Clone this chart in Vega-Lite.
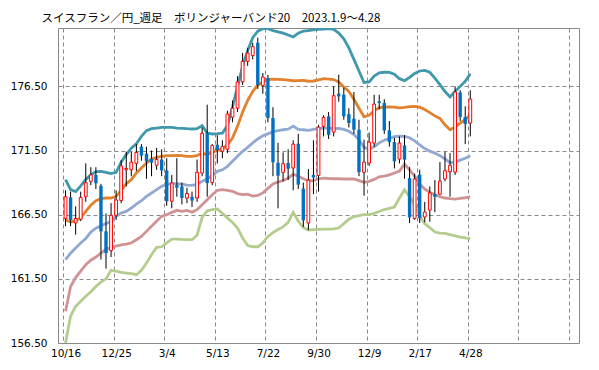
{
"$schema":"https://vega.github.io/schema/vega-lite/v6.json",
"width":521,"height":315,
"autosize":{"type":"none"},
"padding":{"left":58,"top":28,"right":20,"bottom":27},
"background":"white",
"title":{"text":"スイスフラン／円_週足　ボリンジャーバンド20　2023.1.9～4.28","anchor":"start","frame":"group","dx":-16.5,"offset":-5,"baseline":"alphabetic","font":"Noto Sans CJK JP","fontSize":11.5,"fontWeight":"normal","color":"#000000"},
"config":{"view":{"stroke":"#878787","strokeWidth":1},
"axis":{"gridColor":"#8a8a8a","gridDash":[4,3],"gridWidth":1,"ticks":false,"domain":false,"labelFont":"DejaVu Sans","labelFontSize":10.5,"labelColor":"#000000","title":null,"labelFlush":false,"labelOverlap":false}},
"datasets":{
"b":[
{"i":0,"u2":169.23,"u1":166.1,"m":162.99,"d1":158.97,"d2":156.5},
{"i":1,"u2":168.45,"u1":165.93,"m":163.5,"d1":160.9,"d2":158.6},
{"i":2,"u2":168.3,"u1":166.03,"m":163.9,"d1":161.6,"d2":159.35},
{"i":3,"u2":168.75,"u1":166.24,"m":164.3,"d1":162.1,"d2":159.75},
{"i":4,"u2":169.25,"u1":166.76,"m":164.65,"d1":162.6,"d2":160.15},
{"i":5,"u2":169.6,"u1":167.23,"m":165.15,"d1":162.95,"d2":160.5},
{"i":6,"u2":169.85,"u1":167.59,"m":165.45,"d1":163.2,"d2":160.9},
{"i":7,"u2":169.88,"u1":167.75,"m":165.64,"d1":163.5,"d2":161.25},
{"i":8,"u2":169.8,"u1":167.8,"m":165.8,"d1":163.8,"d2":161.5},
{"i":9,"u2":169.7,"u1":167.8,"m":165.98,"d1":163.95,"d2":162.16},
{"i":10,"u2":169.8,"u1":167.93,"m":166.37,"d1":164.05,"d2":162.1},
{"i":11,"u2":170.6,"u1":168.4,"m":166.63,"d1":164.15,"d2":162.0},
{"i":12,"u2":171.18,"u1":168.92,"m":166.76,"d1":164.2,"d2":161.95},
{"i":13,"u2":171.69,"u1":169.23,"m":167.02,"d1":164.3,"d2":161.9},
{"i":14,"u2":172.03,"u1":169.75,"m":167.33,"d1":164.55,"d2":161.82},
{"i":15,"u2":172.6,"u1":170.14,"m":167.59,"d1":164.81,"d2":162.16},
{"i":16,"u2":173.05,"u1":170.53,"m":167.93,"d1":165.2,"d2":162.73},
{"i":17,"u2":173.2,"u1":170.84,"m":168.19,"d1":165.59,"d2":163.38},
{"i":18,"u2":173.25,"u1":170.97,"m":168.45,"d1":165.98,"d2":163.95},
{"i":19,"u2":173.3,"u1":171.05,"m":168.71,"d1":166.37,"d2":164.0},
{"i":20,"u2":173.3,"u1":171.1,"m":168.86,"d1":166.5,"d2":164.3},
{"i":21,"u2":173.3,"u1":171.1,"m":168.92,"d1":166.68,"d2":164.6},
{"i":22,"u2":173.25,"u1":171.12,"m":168.92,"d1":166.84,"d2":164.6},
{"i":23,"u2":173.23,"u1":171.1,"m":168.89,"d1":166.76,"d2":164.57},
{"i":24,"u2":173.2,"u1":171.05,"m":168.81,"d1":166.84,"d2":164.55},
{"i":25,"u2":173.18,"u1":171.05,"m":168.79,"d1":166.7,"d2":164.55},
{"i":26,"u2":173.2,"u1":171.1,"m":168.86,"d1":166.89,"d2":164.9},
{"i":27,"u2":173.44,"u1":171.3,"m":169.1,"d1":167.28,"d2":166.3},
{"i":28,"u2":172.86,"u1":171.18,"m":169.28,"d1":167.67,"d2":166.8},
{"i":29,"u2":172.79,"u1":171.36,"m":169.54,"d1":168.06,"d2":166.9},
{"i":30,"u2":172.81,"u1":171.51,"m":169.88,"d1":168.4,"d2":166.95},
{"i":31,"u2":172.86,"u1":171.64,"m":170.0,"d1":168.45,"d2":166.6},
{"i":32,"u2":173.44,"u1":171.95,"m":170.27,"d1":168.4,"d2":166.25},
{"i":33,"u2":174.89,"u1":172.47,"m":170.66,"d1":168.32,"d2":165.9},
{"i":34,"u2":176.5,"u1":173.4,"m":171.05,"d1":168.14,"d2":165.46},
{"i":35,"u2":178.06,"u1":174.5,"m":171.44,"d1":168.06,"d2":164.68},
{"i":36,"u2":179.3,"u1":175.4,"m":171.75,"d1":168.1,"d2":164.1},
{"i":37,"u2":180.3,"u1":176.1,"m":172.1,"d1":167.95,"d2":164.0},
{"i":38,"u2":180.8,"u1":176.6,"m":172.4,"d1":168.0,"d2":164.0},
{"i":39,"u2":181.0,"u1":176.85,"m":172.65,"d1":168.2,"d2":164.3},
{"i":40,"u2":181.0,"u1":177.02,"m":172.8,"d1":168.55,"d2":164.8},
{"i":41,"u2":180.85,"u1":177.07,"m":172.97,"d1":168.9,"d2":165.1},
{"i":42,"u2":180.75,"u1":177.05,"m":173.06,"d1":169.05,"d2":165.35},
{"i":43,"u2":180.65,"u1":177.02,"m":173.12,"d1":169.15,"d2":165.55},
{"i":44,"u2":180.5,"u1":176.98,"m":173.16,"d1":169.35,"d2":165.9},
{"i":45,"u2":180.35,"u1":176.94,"m":173.4,"d1":169.65,"d2":166.68},
{"i":46,"u2":180.65,"u1":176.95,"m":173.15,"d1":169.5,"d2":166.0},
{"i":47,"u2":180.8,"u1":176.97,"m":173.12,"d1":169.3,"d2":165.5},
{"i":48,"u2":180.85,"u1":176.9,"m":173.07,"d1":169.15,"d2":165.3},
{"i":49,"u2":180.9,"u1":176.92,"m":173.15,"d1":169.15,"d2":165.33},
{"i":50,"u2":180.95,"u1":177.0,"m":173.22,"d1":169.3,"d2":165.36},
{"i":51,"u2":180.97,"u1":177.1,"m":173.25,"d1":169.35,"d2":165.38},
{"i":52,"u2":181.0,"u1":177.07,"m":173.25,"d1":169.32,"d2":165.38},
{"i":53,"u2":180.95,"u1":177.03,"m":173.2,"d1":169.3,"d2":165.4},
{"i":54,"u2":180.66,"u1":176.85,"m":173.22,"d1":169.3,"d2":165.46},
{"i":55,"u2":180.2,"u1":176.45,"m":173.15,"d1":169.28,"d2":165.8},
{"i":56,"u2":179.5,"u1":176.1,"m":173.0,"d1":169.28,"d2":166.15},
{"i":57,"u2":178.6,"u1":175.5,"m":172.75,"d1":169.28,"d2":166.35},
{"i":58,"u2":177.7,"u1":174.8,"m":172.35,"d1":169.15,"d2":166.42},
{"i":59,"u2":176.8,"u1":174.13,"m":171.75,"d1":169.02,"d2":166.5},
{"i":60,"u2":176.85,"u1":174.25,"m":171.6,"d1":169.1,"d2":166.5},
{"i":61,"u2":177.3,"u1":174.6,"m":171.8,"d1":169.25,"d2":166.6},
{"i":62,"u2":177.55,"u1":174.85,"m":172.1,"d1":169.45,"d2":166.75},
{"i":63,"u2":177.6,"u1":174.89,"m":172.3,"d1":169.5,"d2":166.9},
{"i":64,"u2":177.59,"u1":174.9,"m":172.45,"d1":169.6,"d2":167.0},
{"i":65,"u2":177.45,"u1":174.89,"m":172.58,"d1":169.75,"d2":167.1},
{"i":66,"u2":177.1,"u1":174.82,"m":172.63,"d1":169.9,"d2":167.8},
{"i":67,"u2":176.95,"u1":174.86,"m":172.6,"d1":170.45,"d2":168.45},
{"i":68,"u2":177.2,"u1":174.92,"m":172.5,"d1":170.0,"d2":167.9},
{"i":69,"u2":177.5,"u1":174.93,"m":172.25,"d1":169.5,"d2":167.3},
{"i":70,"u2":177.7,"u1":174.88,"m":171.95,"d1":168.9,"d2":166.4},
{"i":71,"u2":177.75,"u1":174.7,"m":171.65,"d1":168.5,"d2":165.8},
{"i":72,"u2":177.6,"u1":174.45,"m":171.45,"d1":168.25,"d2":165.5},
{"i":73,"u2":177.15,"u1":174.2,"m":171.3,"d1":168.05,"d2":165.15},
{"i":74,"u2":176.63,"u1":174.0,"m":171.1,"d1":167.9,"d2":165.07},
{"i":75,"u2":176.1,"u1":173.5,"m":170.85,"d1":167.8,"d2":165.05},
{"i":76,"u2":175.67,"u1":173.12,"m":170.55,"d1":167.75,"d2":164.95},
{"i":77,"u2":176.1,"u1":173.33,"m":170.6,"d1":167.72,"d2":164.85},
{"i":78,"u2":176.5,"u1":173.64,"m":170.75,"d1":167.78,"d2":164.75},
{"i":79,"u2":176.9,"u1":173.9,"m":170.9,"d1":167.82,"d2":164.7},
{"i":80,"u2":177.49,"u1":174.29,"m":171.1,"d1":167.88,"d2":164.63}
],
"c":[
{"i":0,"o":166.2,"h":168.4,"l":165.6,"c":167.9},
{"i":1,"o":167.85,"h":168.3,"l":165.6,"c":166.1},
{"i":2,"o":165.85,"h":167.15,"l":164.95,"c":166.2},
{"i":3,"o":166.15,"h":168.3,"l":166.0,"c":167.85},
{"i":4,"o":167.9,"h":170.5,"l":167.5,"c":169.0},
{"i":5,"o":169.1,"h":170.2,"l":168.8,"c":169.6},
{"i":6,"o":169.6,"h":170.2,"l":168.5,"c":168.95},
{"i":7,"o":168.75,"h":168.9,"l":163.0,"c":165.2},
{"i":8,"o":165.2,"h":166.6,"l":162.3,"c":163.5},
{"i":9,"o":163.7,"h":167.4,"l":163.2,"c":166.45},
{"i":10,"o":166.45,"h":168.4,"l":166.1,"c":167.65},
{"i":11,"o":167.6,"h":170.75,"l":167.4,"c":170.3},
{"i":12,"o":170.0,"h":171.4,"l":168.7,"c":170.1},
{"i":13,"o":170.0,"h":171.4,"l":169.5,"c":170.6},
{"i":14,"o":170.5,"h":172.0,"l":169.9,"c":171.35},
{"i":15,"o":171.8,"h":172.0,"l":170.7,"c":171.1},
{"i":16,"o":171.25,"h":171.8,"l":169.3,"c":170.65},
{"i":17,"o":170.85,"h":171.5,"l":169.5,"c":170.55},
{"i":18,"o":170.35,"h":171.7,"l":170.0,"c":170.8},
{"i":19,"o":170.8,"h":171.6,"l":169.5,"c":169.95},
{"i":20,"o":169.95,"h":170.9,"l":167.2,"c":167.55},
{"i":21,"o":167.55,"h":169.6,"l":167.0,"c":168.97},
{"i":22,"o":168.8,"h":170.9,"l":167.9,"c":168.6},
{"i":23,"o":168.7,"h":169.0,"l":167.3,"c":167.8},
{"i":24,"o":167.8,"h":168.6,"l":167.4,"c":168.15},
{"i":25,"o":167.9,"h":168.3,"l":167.1,"c":167.6},
{"i":26,"o":167.8,"h":170.8,"l":167.5,"c":169.8},
{"i":27,"o":169.75,"h":173.3,"l":169.5,"c":172.85},
{"i":28,"o":172.85,"h":175.07,"l":167.9,"c":168.97},
{"i":29,"o":169.0,"h":172.0,"l":168.8,"c":171.9},
{"i":30,"o":171.95,"h":172.7,"l":170.5,"c":171.55},
{"i":31,"o":171.45,"h":172.3,"l":170.9,"c":171.8},
{"i":32,"o":171.6,"h":174.6,"l":171.3,"c":174.35},
{"i":33,"o":174.1,"h":175.4,"l":173.7,"c":174.8},
{"i":34,"o":174.8,"h":177.3,"l":174.5,"c":176.85},
{"i":35,"o":176.85,"h":179.1,"l":176.6,"c":178.45},
{"i":36,"o":178.45,"h":179.5,"l":178.1,"c":179.1},
{"i":37,"o":178.9,"h":179.9,"l":178.6,"c":179.6},
{"i":38,"o":179.9,"h":180.3,"l":176.3,"c":176.6},
{"i":39,"o":176.58,"h":177.54,"l":175.93,"c":177.23},
{"i":40,"o":177.15,"h":177.4,"l":173.7,"c":174.03},
{"i":41,"o":174.03,"h":174.88,"l":169.5,"c":170.58},
{"i":42,"o":170.55,"h":172.1,"l":167.0,"c":169.54},
{"i":43,"o":169.8,"h":171.35,"l":169.1,"c":170.47},
{"i":44,"o":170.53,"h":171.6,"l":169.2,"c":170.08},
{"i":45,"o":170.14,"h":172.3,"l":168.4,"c":172.0},
{"i":46,"o":172.03,"h":172.8,"l":168.5,"c":168.84},
{"i":47,"o":168.53,"h":169.0,"l":165.55,"c":166.06},
{"i":48,"o":165.85,"h":170.05,"l":165.3,"c":169.2},
{"i":49,"o":169.6,"h":172.3,"l":168.1,"c":169.4},
{"i":50,"o":169.56,"h":173.5,"l":168.3,"c":173.33},
{"i":51,"o":173.38,"h":174.25,"l":172.6,"c":174.08},
{"i":52,"o":174.16,"h":174.5,"l":172.4,"c":172.73},
{"i":53,"o":172.94,"h":176.5,"l":172.6,"c":175.77},
{"i":54,"o":175.93,"h":177.41,"l":175.3,"c":175.72},
{"i":55,"o":175.85,"h":176.4,"l":173.9,"c":174.16},
{"i":56,"o":174.34,"h":174.8,"l":173.3,"c":173.64},
{"i":57,"o":173.98,"h":176.06,"l":172.8,"c":173.12},
{"i":58,"o":173.12,"h":173.9,"l":169.5,"c":169.82},
{"i":59,"o":169.8,"h":172.34,"l":167.98,"c":170.6},
{"i":60,"o":170.53,"h":172.9,"l":170.3,"c":172.16},
{"i":61,"o":172.08,"h":175.85,"l":171.8,"c":175.12},
{"i":62,"o":175.33,"h":175.85,"l":174.7,"c":175.2},
{"i":63,"o":175.2,"h":175.5,"l":172.8,"c":173.07},
{"i":64,"o":173.07,"h":173.8,"l":171.8,"c":172.16},
{"i":65,"o":172.16,"h":172.5,"l":170.1,"c":170.66},
{"i":66,"o":170.84,"h":172.6,"l":170.5,"c":172.08},
{"i":67,"o":171.9,"h":172.7,"l":169.3,"c":170.79},
{"i":68,"o":169.36,"h":170.2,"l":165.85,"c":166.29},
{"i":69,"o":166.21,"h":169.7,"l":166.1,"c":169.28},
{"i":70,"o":169.62,"h":170.0,"l":165.85,"c":166.24},
{"i":71,"o":166.32,"h":167.5,"l":165.9,"c":166.71},
{"i":72,"o":166.86,"h":168.7,"l":165.95,"c":168.19},
{"i":73,"o":168.1,"h":169.2,"l":166.7,"c":167.9},
{"i":74,"o":168.1,"h":170.6,"l":168.05,"c":169.12},
{"i":75,"o":169.28,"h":171.4,"l":169.1,"c":169.93},
{"i":76,"o":169.85,"h":171.3,"l":167.9,"c":170.35},
{"i":77,"o":169.82,"h":176.5,"l":169.6,"c":176.06},
{"i":78,"o":176.03,"h":176.2,"l":173.8,"c":174.11},
{"i":79,"o":174.11,"h":174.95,"l":172.0,"c":173.57},
{"i":80,"o":173.64,"h":176.2,"l":172.6,"c":175.51}
]},
"encoding":{
"x":{"field":"i","type":"quantitative","scale":{"domain":[-0.5,100.5],"nice":false,"zero":false},
"axis":{"values":[-0.5,9.5,19.5,29.5,39.5,49.5,59.5,69.5,79.5,89.5,99.5],"grid":true,"labelPadding":5,"labelOffset":2.6,"labelAngle":0,
"labelExpr":"['10/16','12/25','3/4','5/13','7/22','9/30','12/9','2/17','4/28','',''][round((datum.value+0.5)/10)]"}}
},
"layer":[
{"data":{"name":"b"},"mark":{"type":"line","color":"#3f98ab","strokeWidth":2.8,"clip":true},
"encoding":{"y":{"field":"u2","type":"quantitative","scale":{"domain":[156.5,181.05],"nice":false,"zero":false},
"axis":{"values":[156.5,161.5,166.5,171.5,176.5],"format":".2f","grid":true,"labelPadding":11}}}},
{"data":{"name":"b"},"mark":{"type":"line","color":"#e0822f","strokeWidth":2.8,"clip":true},
"encoding":{"y":{"field":"u1","type":"quantitative","scale":{"domain":[156.5,181.05],"nice":false,"zero":false},"axis":{"values":[156.5,161.5,166.5,171.5,176.5],"format":".2f","grid":true,"labelPadding":11}}}},
{"data":{"name":"b"},"mark":{"type":"line","color":"#91a8d2","strokeWidth":2.8,"clip":true},
"encoding":{"y":{"field":"m","type":"quantitative","scale":{"domain":[156.5,181.05],"nice":false,"zero":false},"axis":{"values":[156.5,161.5,166.5,171.5,176.5],"format":".2f","grid":true,"labelPadding":11}}}},
{"data":{"name":"b"},"mark":{"type":"line","color":"#d09393","strokeWidth":2.8,"clip":true},
"encoding":{"y":{"field":"d1","type":"quantitative","scale":{"domain":[156.5,181.05],"nice":false,"zero":false},"axis":{"values":[156.5,161.5,166.5,171.5,176.5],"format":".2f","grid":true,"labelPadding":11}}}},
{"data":{"name":"b"},"mark":{"type":"line","color":"#b4cd8f","strokeWidth":2.8,"clip":true},
"encoding":{"y":{"field":"d2","type":"quantitative","scale":{"domain":[156.5,181.05],"nice":false,"zero":false},"axis":{"values":[156.5,161.5,166.5,171.5,176.5],"format":".2f","grid":true,"labelPadding":11}}}},
{"data":{"name":"c"},"mark":{"type":"rule","color":"#000000","strokeWidth":1,"clip":true},
"encoding":{"y":{"field":"l","type":"quantitative","scale":{"domain":[156.5,181.05],"nice":false,"zero":false},"axis":{"values":[156.5,161.5,166.5,171.5,176.5],"format":".2f","grid":true,"labelPadding":11}},"y2":{"field":"h"}}},
{"data":{"name":"c"},"mark":{"type":"bar","strokeWidth":1,"clip":true},
"encoding":{"y":{"field":"o","type":"quantitative","scale":{"domain":[156.5,181.05],"nice":false,"zero":false},"axis":{"values":[156.5,161.5,166.5,171.5,176.5],"format":".2f","grid":true,"labelPadding":11}},"y2":{"field":"c"},
"size":{"condition":{"test":"datum.c >= datum.o","value":2.8},"value":3.4},
"fill":{"condition":{"test":"datum.c >= datum.o","value":"#ffffff"},"value":"#0070c0"},
"stroke":{"condition":{"test":"datum.c >= datum.o","value":"#ff0000"},"value":"#0070c0"},
"strokeWidth":{"condition":{"test":"datum.c >= datum.o","value":1},"value":0}}}
]
}
